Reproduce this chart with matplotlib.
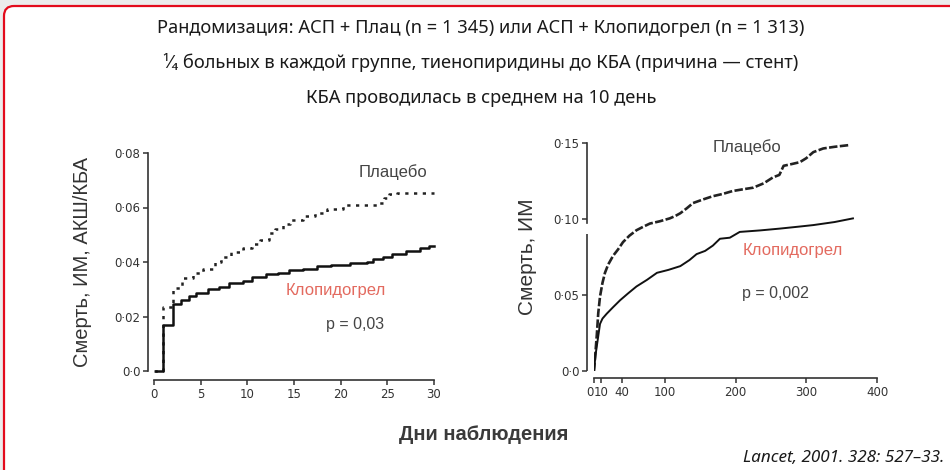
import matplotlib
matplotlib.use('Agg')
import matplotlib.pyplot as plt
from matplotlib.patches import FancyBboxPatch
from matplotlib.transforms import ScaledTranslation

# 30-day curves (days, cumulative event rate)
early_days_placebo = [0, 1.0, 2.0, 3.0, 4.2, 5.2, 6.5, 7.2, 8.3, 9.5, 10.5, 11.4, 12.3, 13.0,
                      13.8, 14.6, 16.0, 17.2, 18.5, 20.2, 21.5, 24.0, 24.6, 25.2, 26.0, 30.0]
early_placebo = [0, 0.0234, 0.0306, 0.034, 0.036, 0.0375, 0.040, 0.042, 0.0435, 0.045, 0.0465, 0.048,
                 0.0505, 0.052, 0.054, 0.0555, 0.057, 0.058, 0.0595, 0.061, 0.061, 0.0615, 0.0635,
                 0.065, 0.0655, 0.0655]
early_days_clopi = [0.2, 1.0, 2.05, 2.9, 3.7, 4.5, 5.8, 7.0, 8.0, 9.5, 10.5, 12.0, 13.3, 14.5, 16.0,
                    17.5, 19.0, 21.0, 22.8, 23.5, 24.5, 25.5, 27.0, 28.5, 29.5, 30.0]
early_clopi = [0, 0.0167, 0.0246, 0.026, 0.0275, 0.0287, 0.030, 0.031, 0.0322, 0.033, 0.0345, 0.0355,
               0.036, 0.037, 0.0375, 0.0385, 0.039, 0.0395, 0.040, 0.0412, 0.042, 0.043, 0.044,
               0.045, 0.0457, 0.0457]

# long-term curves
late_days_placebo = [0, 2, 4, 6, 8.5, 12, 15.5, 20, 27, 34, 41, 50, 60, 70, 79, 93, 107, 115, 122,
                     131, 140, 155, 168, 182, 196, 210, 225, 240, 253, 262, 268, 280, 291, 300, 310,
                     324, 340, 362]
late_placebo = [0, 0.012, 0.024, 0.038, 0.049, 0.058, 0.0646, 0.070, 0.0758, 0.080, 0.0848, 0.089,
                0.0926, 0.095, 0.097, 0.0985, 0.1004, 0.102, 0.1038, 0.107, 0.1105, 0.113, 0.115,
                0.1165, 0.1184, 0.1195, 0.1206, 0.1235, 0.1274, 0.129, 0.135, 0.1362, 0.1374, 0.140,
                0.144, 0.1464, 0.1475, 0.1487]
late_days_clopi = [0, 2, 5, 8.5, 12, 18, 27, 37, 48, 60, 75, 89, 105, 122, 135, 145, 157, 168, 178,
                   192, 206, 235, 263, 290, 310, 340, 366]
late_clopi = [0, 0.010, 0.0197, 0.031, 0.0345, 0.0377, 0.042, 0.0466, 0.051, 0.0556, 0.060, 0.0646,
              0.0665, 0.069, 0.073, 0.0769, 0.079, 0.0825, 0.087, 0.0877, 0.0915, 0.0925, 0.0937,
              0.095, 0.096, 0.098, 0.1004]

early_xticks = [0, 5, 10, 15, 20, 25, 30]
early_yticks = [0, 0.02, 0.04, 0.06, 0.08]
early_ylabels = ['0·0', '0·02', '0·04', '0·06', '0·08']
late_xticks = [0, 10, 40, 100, 200, 300, 400]
late_xlabels = ['0', '10', '40', '100', '200', '300', '400']
late_yticks = [0, 0.05, 0.10, 0.15]
late_ylabels = ['0·0', '0·05', '0·10', '0·15']

header = [
    'Рандомизация: АСП + Плац (n = 1 345) или АСП + Клопидогрел (n = 1 313)',
    '¹⁄₄ больных в каждой группе, тиенопиридины до КБА (причина — стент)',
    'КБА проводилась в среднем на 10 день',
]

W, H = 950, 470
ink = '#333333'
label_grey = '#444444'
red = '#e36a5f'
plot_font = 'Liberation Sans'

fig = plt.figure(figsize=(W / 100, H / 100), dpi=100, facecolor='#ececec')

def px(x, y):
    return x / W, 1 - y / H

# white card with red border
card = FancyBboxPatch((0.04, -0.3), 9.9, 4.64 + 0.3,
                      boxstyle='round,pad=0,rounding_size=0.1',
                      transform=fig.dpi_scale_trans, facecolor='white',
                      edgecolor='#e30b1c', linewidth=1.6, zorder=-1)
fig.patches.append(card)

title_font = ['Noto Sans', 'DejaVu Sans']
for i, line in enumerate(header):
    fig.text(*px(481, 28 + 35 * i), line, ha='center', va='center',
             fontsize=13.2, color='#1a1a1a', family=title_font)


def style_axes(ax, left_out, bottom_out):
    ax.set_facecolor('none')
    for s in ['top', 'right']:
        ax.spines[s].set_visible(False)
    ax.spines['left'].set_position(('outward', left_out))
    ax.spines['bottom'].set_position(('outward', bottom_out))
    for s in ['left', 'bottom']:
        ax.spines[s].set_color(ink)
        ax.spines[s].set_linewidth(1.2)
    ax.tick_params(direction='out', length=3.5, width=1.1, color=ink,
                   labelsize=8.5, labelcolor=ink, pad=2)


# left panel: first 30 days
ax1 = fig.add_axes([154 / W, (H - 371) / H, 280 / W, 218 / H])
style_axes(ax1, 4.3, 6.5)
ax1.plot(early_days_placebo, early_placebo, drawstyle='steps-post', color='#222222',
         lw=1.8, linestyle=(0, (1.3, 2.2)), clip_on=False)
ax1.plot(early_days_clopi, early_clopi, drawstyle='steps-post', color='#111111',
         lw=1.8, clip_on=False)
ax1.set_xlim(0, 30)
ax1.set_ylim(0, 0.08)
ax1.set_xticks(early_xticks)
ax1.set_yticks(early_yticks)
ax1.set_yticklabels(early_ylabels)
ax1.set_ylabel('Смерть, ИМ, АКШ/КБА', fontsize=14.5, color=ink,
               family=plot_font, labelpad=16)
ax1.text(25.6, 0.073, 'Плацебо', fontsize=12, color=label_grey, ha='center',
         va='center', family=plot_font)
ax1.text(19.5, 0.0297, 'Клопидогрел', fontsize=12, color=red, ha='center',
         va='center', family=plot_font)
ax1.text(21.5, 0.0169, 'p = 0,03', fontsize=11.5, color=label_grey, ha='center',
         va='center', family=plot_font)

# right panel: one-year follow-up
ax2 = fig.add_axes([594 / W, (H - 371) / H, 283 / W, 228 / H])
style_axes(ax2, 5.0, 5.0)
ax2.plot(late_days_placebo, late_placebo, color='#222222', lw=1.9,
         linestyle=(0, (3.2, 0.9)))
ax2.plot(late_days_clopi, late_clopi, color='#111111', lw=1.4)
ax2.set_xlim(0, 400)
ax2.set_ylim(0, 0.15)
ax2.set_xticks(late_xticks)
ax2.set_xticklabels(late_xlabels)
ax2.get_xticklabels()[0].set_ha('right')
ax2.set_yticks(late_yticks)
ax2.set_yticklabels(late_ylabels)
# y axis drawn with a small break just under 0·10
ax2.spines['left'].set_bounds(0.0975, 0.15)
lower = ax2.get_yaxis_transform() + ScaledTranslation(-5.0 / 72, 0, fig.dpi_scale_trans)
ax2.plot([0, 0], [0, 0.090], transform=lower, color=ink, lw=1.2, clip_on=False,
         solid_capstyle='butt')
ax2.set_ylabel('Смерть, ИМ', fontsize=15, color=ink, family=plot_font, labelpad=12)
ax2.text(216, 0.147, 'Плацебо', fontsize=12, color=label_grey, ha='center',
         va='center', family=plot_font)
ax2.text(281, 0.0796, 'Клопидогрел', fontsize=12, color=red, ha='center',
         va='center', family=plot_font)
ax2.text(257, 0.0513, 'p = 0,002', fontsize=11.5, color=label_grey, ha='center',
         va='center', family=plot_font)

fig.text(*px(484, 435), 'Дни наблюдения', ha='center', va='center', fontsize=14.5,
         fontweight='bold', color='#3a3a3a', family=plot_font)
fig.text(*px(944, 458), 'Lancet, 2001. 328: 527–33.', ha='right', va='center',
         fontsize=12.3, style='italic', color='#1a1a1a', family=title_font)

fig.savefig('out.png', dpi=100, facecolor=fig.get_facecolor())
